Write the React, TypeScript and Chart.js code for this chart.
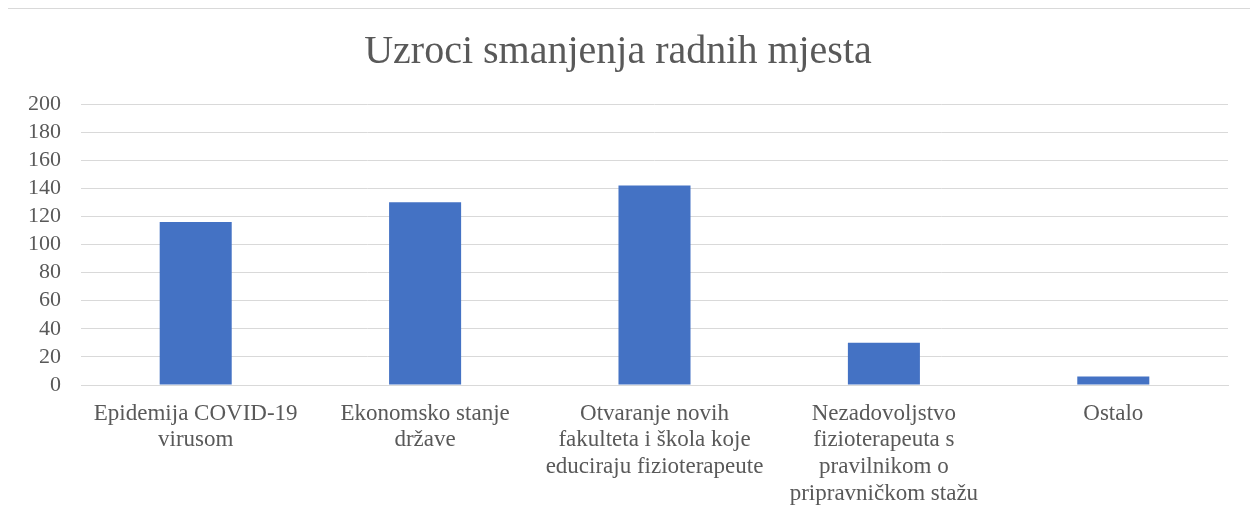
import React, { useEffect, useRef } from "react";
import { Chart, registerables } from "chart.js";

Chart.register(...registerables);

const titleText = "Uzroci smanjenja radnih mjesta";
const categories: string[][] = [
  ["Epidemija COVID-19", "virusom"],
  ["Ekonomsko stanje", "države"],
  ["Otvaranje novih", "fakulteta i škola koje", "educiraju fizioterapeute"],
  ["Nezadovoljstvo", "fizioterapeuta s", "pravilnikom o", "pripravničkom stažu"],
  ["Ostalo"],
];
const values: number[] = [116, 130, 142, 30, 6];
const yMin = 0;
const yMax = 200;
const yStep = 20;

const FONT = "'Liberation Serif', 'Times New Roman', serif";
const TEXT = "#595959";
const GRID = "#d9d9d9";
const BAR = "#4472C4";

export default function App() {
  const ref = useRef<HTMLCanvasElement | null>(null);

  useEffect(() => {
    if (!ref.current) return;
    const chart = new Chart(ref.current, {
      type: "bar",
      data: {
        labels: categories,
        datasets: [
          {
            data: values,
            backgroundColor: BAR,
            borderWidth: 0,
            categoryPercentage: 1,
            barPercentage: 0.314,
          },
        ],
      },
      options: {
        animation: false,
        responsive: false,
        maintainAspectRatio: false,
        layout: { padding: { left: 0, right: 29, top: 0, bottom: 0 } },
        plugins: {
          legend: { display: false },
          tooltip: { enabled: false },
          title: {
            display: true,
            text: titleText,
            color: TEXT,
            font: { family: FONT, size: 40, weight: "normal" },
            padding: { top: 19, bottom: 28 },
          },
        },
        scales: {
          x: {
            grid: { display: false, drawTicks: false },
            border: { display: true, color: GRID, width: 1 },
            ticks: {
              color: TEXT,
              font: { family: FONT, size: 23, lineHeight: 1.17 },
              padding: 15,
              maxRotation: 0,
              autoSkip: false,
            },
            afterFit: (s: any) => {
              s.height = 139;
            },
          },
          y: {
            min: yMin,
            max: yMax,
            grid: { color: GRID, lineWidth: 1, drawTicks: false },
            border: { display: false },
            ticks: {
              stepSize: yStep,
              autoSkip: false,
              color: TEXT,
              font: { family: FONT, size: 22, lineHeight: 1.0 },
              padding: 20,
            },
            afterFit: (s: any) => {
              s.width = 73;
            },
          },
        },
      },
    });
    return () => chart.destroy();
  }, []);

  return (
    <div
      style={{
        width: 1251,
        height: 516,
        marginLeft: -1,
        border: `1px solid ${GRID}`,
        borderBottom: "none",
        boxSizing: "border-box",
        background: "#fff",
        overflow: "hidden",
      }}
    >
      <canvas ref={ref} width={1249} height={515} style={{ display: "block" }} />
    </div>
  );
}
